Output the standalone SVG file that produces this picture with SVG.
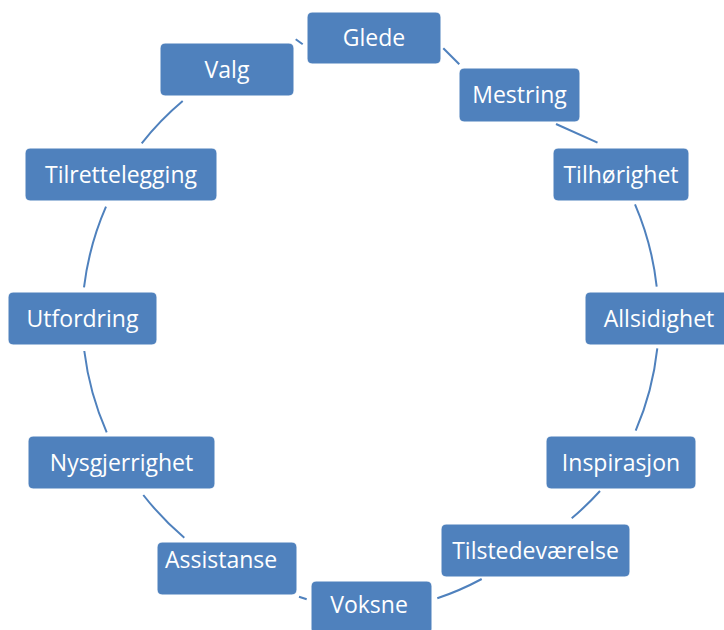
<svg xmlns="http://www.w3.org/2000/svg" width="724" height="630" viewBox="0 0 724 630">
<style>
.box{fill:#4F81BD;stroke:#ffffff;stroke-width:1}
.lbl{font-family:"Open Sans","Noto Sans",sans-serif;font-size:23px;fill:#ffffff;text-anchor:middle}
.con{fill:none;stroke:#4F81BD;stroke-width:2}
</style>
<rect width="724" height="630" fill="#ffffff"/>
<g id="connectors">
<path class="con" d="M295.7,39.3 L302.7,44.3"/>
<path class="con" d="M443.3,48.3 L459.3,64.3"/>
<path class="con" d="M556,124 L597.5,142.7"/>
<path class="con" d="M635,204.3 A288,288 0 0 1 656.7,286.7"/>
<path class="con" d="M657.3,348.3 A288,288 0 0 1 635.7,430.7"/>
<path class="con" d="M600,491 A288,288 0 0 1 571.7,518.3"/>
<path class="con" d="M481.7,579 A288,288 0 0 1 437.3,598.3"/>
<path class="con" d="M306.7,599.3 L299,596.7"/>
<path class="con" d="M184.3,537.7 A288,288 0 0 1 143.3,495"/>
<path class="con" d="M106.7,432.3 A288,288 0 0 1 84.3,351"/>
<path class="con" d="M84,287.3 A288,288 0 0 1 106,206.7"/>
<path class="con" d="M141.7,143.3 A288,288 0 0 1 182.7,101"/>
</g>
<g id="glede"><rect class="box" x="307" y="12" width="134" height="52" rx="5"/><text class="lbl" x="374" y="46">Glede</text></g>
<g id="mestring"><rect class="box" x="459" y="68" width="121" height="54" rx="5"/><text class="lbl" x="519.5" y="103">Mestring</text></g>
<g id="tilhorighet"><rect class="box" x="553" y="148" width="136" height="53" rx="5"/><text class="lbl" x="621" y="182.5">Tilhørighet</text></g>
<g id="allsidighet"><rect class="box" x="585" y="292" width="148" height="53" rx="5"/><text class="lbl" x="659" y="326.5">Allsidighet</text></g>
<g id="inspirasjon"><rect class="box" x="546" y="436" width="150" height="53" rx="5"/><text class="lbl" x="621" y="470.5">Inspirasjon</text></g>
<g id="tilstedevaerelse"><rect class="box" x="441" y="524" width="189" height="53" rx="5"/><text class="lbl" x="535.5" y="558.5">Tilstedeværelse</text></g>
<g id="voksne"><rect class="box" x="311" y="581" width="121" height="53" rx="5"/><text class="lbl" x="369" y="613">Voksne</text></g>
<g id="assistanse"><rect class="box" x="157" y="542" width="140" height="53" rx="5"/><text class="lbl" x="165" y="568" style="text-anchor:start">Assistanse</text></g>
<g id="nysgjerrighet"><rect class="box" x="28" y="436" width="187" height="53" rx="5"/><text class="lbl" x="121.5" y="470.5">Nysgjerrighet</text></g>
<g id="utfordring"><rect class="box" x="8" y="292" width="149" height="53" rx="5"/><text class="lbl" x="82.5" y="326.5">Utfordring</text></g>
<g id="tilrettelegging"><rect class="box" x="25" y="148" width="192" height="53" rx="5"/><text class="lbl" x="121" y="182.5">Tilrettelegging</text></g>
<g id="valg"><rect class="box" x="160" y="43" width="134" height="53" rx="5"/><text class="lbl" x="227" y="77.5">Valg</text></g>
</svg>
